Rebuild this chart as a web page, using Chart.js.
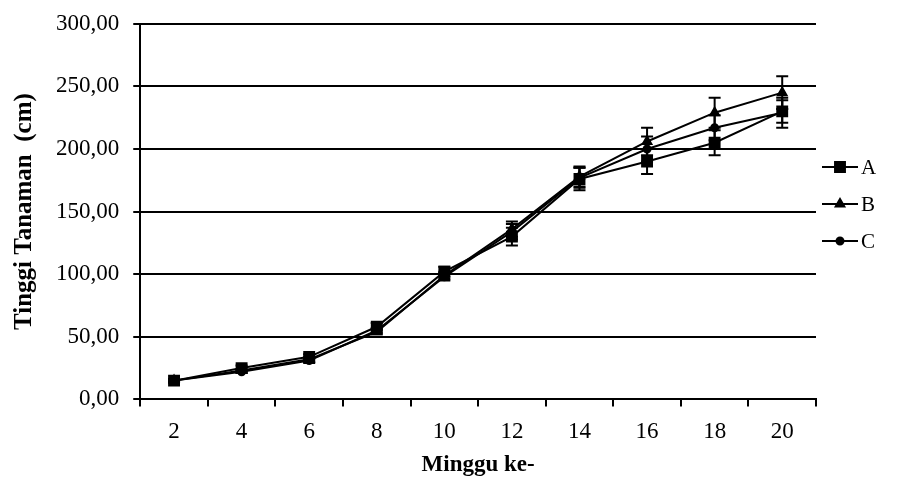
<!DOCTYPE html>
<html>
<head>
<meta charset="utf-8">
<script src="https://cdn.jsdelivr.net/npm/chart.js@4.4.1/dist/chart.umd.min.js"></script>
<style>
  html, body { margin: 0; padding: 0; background: #fff; }
  #wrap { position: relative; width: 924px; height: 477px; }
</style>
</head>
<body>
<div id="wrap"><canvas id="chart"></canvas></div>
<script>
// Data
const weeks = ['2', '4', '6', '8', '10', '12', '14', '16', '18', '20'];
const seriesA = [15, 25, 34, 58, 102, 130, 176, 190, 205, 230];
const seriesB = [15, 23, 32, 54, 99, 136, 178, 206, 229, 245];
const seriesC = [15, 22, 31, 55, 98, 134, 177, 200, 217, 229];
const errA = [1, 2, 2, 3, 4, 7, 9, 10, 10, 9];
const errB = [1, 1, 2, 2, 3, 6, 8, 11, 12, 13];
const errC = [1, 1, 2, 2, 3, 6, 8, 10, 10, 12];
const yTicks = [0, 50, 100, 150, 200, 250, 300];

const serif = '"Liberation Serif", "Times New Roman", serif';

// Error bars drawn through the chart's own scales
const errorBars = {
  id: 'errorBars',
  afterDatasetsDraw(chart) {
    const { ctx, scales: { x, y } } = chart;
    ctx.save();
    ctx.strokeStyle = '#000';
    ctx.lineWidth = 2;
    chart.data.datasets.forEach(ds => {
      ds.data.forEach((v, i) => {
        const e = ds.err[i];
        const px = x.getPixelForValue(i);
        const top = y.getPixelForValue(v + e);
        const bot = y.getPixelForValue(v - e);
        ctx.beginPath();
        ctx.moveTo(px, top); ctx.lineTo(px, bot);
        ctx.moveTo(px - 6, top); ctx.lineTo(px + 6, top);
        ctx.moveTo(px - 6, bot); ctx.lineTo(px + 6, bot);
        ctx.stroke();
      });
    });
    ctx.restore();
  }
};

// Legend on the right: line with marker, then label
const sideLegend = {
  id: 'sideLegend',
  afterDraw(chart) {
    const { ctx, chartArea } = chart;
    const x0 = chartArea.right + 6;
    ctx.save();
    chart.data.datasets.forEach((ds, i) => {
      const yy = 167 + i * 37;
      ctx.strokeStyle = '#000';
      ctx.lineWidth = 2;
      ctx.beginPath();
      ctx.moveTo(x0, yy); ctx.lineTo(x0 + 36, yy);
      ctx.stroke();
      Chart.helpers.drawPoint(ctx, {
        pointStyle: ds.pointStyle, radius: ds.pointRadius, borderWidth: 1
      }, x0 + 18, yy);
      ctx.fillStyle = '#000';
      ctx.font = '21px ' + serif;
      ctx.textBaseline = 'middle';
      ctx.fillText(ds.label, x0 + 39, yy + 1);
    });
    ctx.restore();
  }
};

function line(label, data, err, style, radius) {
  return {
    label, data, err,
    borderColor: '#000', backgroundColor: '#000',
    borderWidth: 2, tension: 0,
    pointStyle: style, pointRadius: radius,
    pointBackgroundColor: '#000', pointBorderColor: '#000'
  };
}

new Chart(document.getElementById('chart'), {
  type: 'line',
  data: {
    labels: weeks,
    datasets: [
      line('A', seriesA, errA, 'rect', 7),
      line('B', seriesB, errB, 'triangle', 5),
      line('C', seriesC, errC, 'circle', 3.5)
    ]
  },
  options: {
    responsive: true,
    maintainAspectRatio: false,
    animation: false,
    layout: { padding: { top: 4, right: 108, left: 10, bottom: 0 } },
    plugins: { legend: { display: false }, tooltip: { enabled: false } },
    scales: {
      x: {
        offset: true,
        grid: { offset: true, drawOnChartArea: false, color: '#000', tickLength: 7, lineWidth: 2 },
        border: { color: '#000', width: 2 },
        ticks: { color: '#000', font: { family: serif, size: 23 }, padding: 12, maxRotation: 0 },
        title: { display: true, text: 'Minggu ke-', color: '#000', font: { family: serif, size: 23, weight: 'bold', lineHeight: 1.0 }, padding: { top: -4, bottom: 0 } }
      },
      y: {
        min: 0, max: 300,
        afterBuildTicks: axis => { axis.ticks = yTicks.map(v => ({ value: v })); },
        grid: { color: '#000', lineWidth: 2, tickLength: 7 },
        border: { color: '#000', width: 2 },
        ticks: {
          color: '#000', font: { family: serif, size: 23, lineHeight: 0.85 }, padding: 14,
          callback: v => v.toFixed(2).replace('.', ',')
        },
        title: { display: true, text: 'Tinggi Tanaman  (cm)', color: '#000', font: { family: serif, size: 25, weight: 'bold' }, padding: { top: 0, bottom: 2 } }
      }
    }
  },
  plugins: [errorBars, sideLegend]
});
</script>
</body>
</html>
